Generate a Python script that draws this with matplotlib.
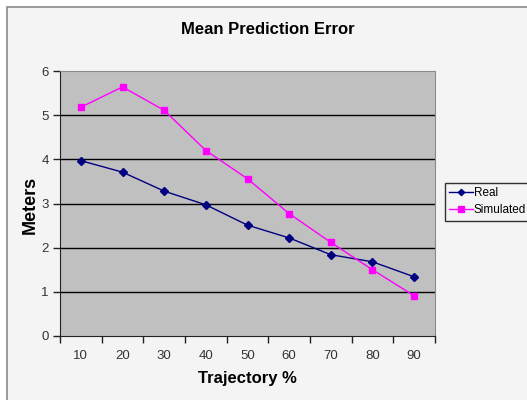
import numpy as np
import matplotlib.pyplot as plt
from matplotlib.patches import Rectangle

plt.rcParams["font.family"] = ["Liberation Sans", "DejaVu Sans"]

# data
trajectory = ["10", "20", "30", "40", "50", "60", "70", "80", "90"]
real = [3.97, 3.71, 3.28, 2.97, 2.51, 2.22, 1.84, 1.68, 1.34]
simulated = [5.18, 5.64, 5.11, 4.20, 3.56, 2.77, 2.12, 1.50, 0.91]
y_ticks = [0, 1, 2, 3, 4, 5, 6]

W, H = 527, 400
fig = plt.figure(figsize=(W / 100, H / 100), dpi=100, facecolor="white")

# chart area frame (behind the axes)
fig.patches.append(Rectangle((7 / W, -0.05), 1.1, 1 - 7 / H + 0.05,
                             transform=fig.transFigure, facecolor="#f4f4f4",
                             edgecolor="#8a8a8a", linewidth=1.2, zorder=-10))

ax = fig.add_axes([60 / W, 64 / H, 375 / W, 265 / H])
ax.set_facecolor("#c0c0c0")

x = np.arange(len(trajectory))
ax.plot(x, real, color="#000080", linewidth=1, marker="D", markersize=4,
        label="Real", zorder=3)
ax.plot(x, simulated, color="#ff00ff", linewidth=1, marker="s", markersize=5,
        label="Simulated", zorder=3)

ax.set_xlim(-0.5, len(trajectory) - 0.5)
ax.set_ylim(0, 6)
ax.set_yticks(y_ticks)
ax.set_xticks(x)
ax.set_xticklabels(trajectory)
ax.set_xticks(np.arange(len(trajectory) + 1) - 0.5, minor=True)
ax.tick_params(axis="x", which="major", length=0, pad=10, labelsize=9.5,
               labelcolor="#333333")
ax.tick_params(axis="x", which="minor", length=5, width=1, direction="out",
               color="#222222")
ax.tick_params(axis="y", length=5, width=1, direction="out", pad=3,
               labelsize=9.5, labelcolor="#333333", color="#222222")

for yv in y_ticks[1:-1]:
    ax.axhline(yv, color="black", linewidth=1, zorder=1)

ax.spines["left"].set_color("#222222")
ax.spines["bottom"].set_color("#222222")
ax.spines["top"].set_color("#8a8a8a")
ax.spines["right"].set_color("#8a8a8a")

fig.text(268 / W, 1 - 30 / H, "Mean Prediction Error", ha="center",
         va="center", fontsize=12, fontweight="bold")
fig.text(30 / W, 1 - 205 / H, "Meters", ha="center", va="center",
         rotation=90, fontsize=13, fontweight="bold")
fig.text(247 / W, 1 - 379 / H, "Trajectory %", ha="center", va="center",
         fontsize=12, fontweight="bold")

leg = fig.legend(loc="upper left", bbox_to_anchor=(445 / W, 1 - 183 / H),
                 fontsize=8.5, frameon=True, fancybox=False, handlelength=2.0,
                 handletextpad=0.1, borderpad=0.35, labelspacing=0.45,
                 borderaxespad=0, markerscale=0.8)
leg.get_frame().set_edgecolor("black")
leg.get_frame().set_facecolor("#f4f4f4")
leg.get_frame().set_linewidth(1)

fig.savefig("out.png", dpi=100, facecolor=fig.get_facecolor())
